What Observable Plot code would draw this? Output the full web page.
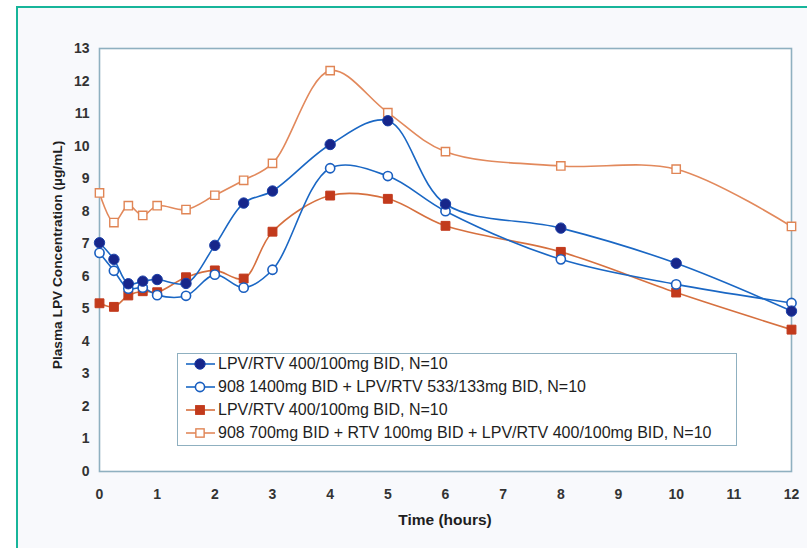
<!DOCTYPE html>
<html>
<head>
<meta charset="utf-8">
<script src="https://cdn.jsdelivr.net/npm/d3@7"></script>
<script src="https://cdn.jsdelivr.net/npm/@observablehq/plot@0.6"></script>
<style>
  html, body { margin: 0; padding: 0; background: #ffffff; }
  #wrap { position: relative; width: 807px; height: 548px; overflow: hidden; font-family: "Liberation Sans", Arial, Helvetica, sans-serif; }
  #panel { position: absolute; left: 16px; top: 6px; width: 800px; height: 560px; border-left: 2.5px solid #17b59a; border-top: 2.5px solid #17b59a; background: #f8f9fc; }
  #chart { position: absolute; left: 0; top: 0; }
  #legend { position: absolute; left: 177px; top: 353px; width: 558px; height: 91px; border: 1.5px solid #8fb0c0; background: #ffffff; }
  .row { position: absolute; left: 0; height: 23px; display: flex; align-items: center; font-size: 16px; color: #1e1e1e; white-space: nowrap; }
  .row svg { margin-left: 8px; margin-right: 3px; }
</style>
</head>
<body>
<div id="wrap">
  <div id="panel"></div>
  <div id="chart"></div>
  <div id="legend"></div>
</div>
<script>
// ---- data ----
const time = [0, 0.25, 0.5, 0.75, 1, 1.5, 2, 2.5, 3, 4, 5, 6, 8, 10, 12];
const seriesNames = [
  "LPV/RTV 400/100mg BID, N=10",
  "908 1400mg BID + LPV/RTV 533/133mg BID, N=10",
  "LPV/RTV 400/100mg BID, N=10",
  "908 700mg BID + RTV 100mg BID + LPV/RTV 400/100mg BID, N=10"
];
const lpvRtvA   = [7.03, 6.52, 5.77, 5.85, 5.90, 5.78, 6.95, 8.25, 8.62, 10.05, 10.78, 8.22, 7.48, 6.40, 4.93];
const fos1400   = [6.72, 6.17, 5.62, 5.65, 5.42, 5.40, 6.05, 5.65, 6.20, 9.32, 9.08, 8.00, 6.52, 5.75, 5.18];
const lpvRtvB   = [5.17, 5.06, 5.41, 5.54, 5.51, 5.97, 6.18, 5.93, 7.37, 8.48, 8.38, 7.55, 6.75, 5.50, 4.36];
const fos700    = [8.56, 7.65, 8.17, 7.87, 8.17, 8.05, 8.49, 8.95, 9.47, 12.32, 11.03, 9.83, 9.39, 9.29, 7.53];
const xTicks = [0,1,2,3,4,5,6,7,8,9,10,11,12];
const yTicks = [0,1,2,3,4,5,6,7,8,9,10,11,12,13];

// ---- styles ----
const styles = [
  {line: "#1a67c4", fill: "#17268a", stroke: "#1a3fa8", symbol: "circle", r: 5.2, sw: 1},
  {line: "#1a67c4", fill: "#ffffff", stroke: "#1a5fc0", symbol: "circle", r: 4.6, sw: 1.6},
  {line: "#d6703f", fill: "#c23a1c", stroke: "#c23a1c", symbol: "square", r: 5.0, sw: 1},
  {line: "#e2895c", fill: "#ffffff", stroke: "#e08555", symbol: "square", r: 4.7, sw: 1.4}
];
const values = [lpvRtvA, fos1400, lpvRtvB, fos700];
const series = values.map((v, i) => time.map((t, j) => ({t, v: v[j], s: i})));
const drawOrder = [3, 2, 1, 0];

const font = '"Liberation Sans", Arial, Helvetica, sans-serif';
const marks = [];
marks.push(Plot.frame({stroke: "#8fb0c0", strokeWidth: 1.6, fill: "#ffffff"}));
for (const i of drawOrder) {
  const st = styles[i];
  marks.push(Plot.line(series[i], {x: "t", y: "v", stroke: st.line, strokeWidth: 1.6, curve: "catmull-rom"}));
}
for (const i of drawOrder) {
  const st = styles[i];
  marks.push(Plot.dot(series[i], {x: "t", y: "v", symbol: st.symbol, r: st.r, fill: st.fill, stroke: st.stroke, strokeWidth: st.sw}));
}
marks.push(Plot.axisX({ticks: xTicks, tickSize: 0, tickPadding: 18, fontSize: 14, fontWeight: "bold", fill: "#333", label: null}));
marks.push(Plot.axisY({ticks: yTicks, tickSize: 0, tickPadding: 10, fontSize: 14, fontWeight: "bold", fill: "#333", label: null}));

const chart = Plot.plot({
  width: 807,
  height: 548,
  marginLeft: 99,
  marginRight: 16,
  marginTop: 48,
  marginBottom: 77,
  style: {background: "transparent", fontFamily: font, overflow: "visible"},
  x: {domain: [0, 12]},
  y: {domain: [0, 13]},
  marks
});

// axis titles as SVG text
const ns = "http://www.w3.org/2000/svg";
function addText(txt, x, y, rot, size) {
  const t = document.createElementNS(ns, "text");
  t.setAttribute("x", x); t.setAttribute("y", y);
  t.setAttribute("text-anchor", "middle");
  t.setAttribute("dominant-baseline", "central");
  t.setAttribute("font-size", size);
  t.setAttribute("font-weight", "bold");
  t.setAttribute("fill", "#1e1e1e");
  t.setAttribute("font-family", font);
  if (rot) t.setAttribute("transform", `rotate(-90 ${x} ${y})`);
  t.textContent = txt;
  chart.appendChild(t);
}
addText("Time (hours)", 445, 519, false, 15.5);
addText("Plasma LPV Concentration (\u00b5g/mL)", 57, 255, true, 13.7);
document.getElementById("chart").appendChild(chart);

// legend
const legend = document.getElementById("legend");
seriesNames.forEach((name, i) => {
  const st = styles[i];
  const row = document.createElement("div");
  row.className = "row";
  row.style.top = (i * 23 - 1.5) + "px";
  const marker = st.symbol === "circle"
    ? `<circle cx="14" cy="9" r="${st.r}" fill="${st.fill}" stroke="${st.stroke}" stroke-width="${st.sw}"/>`
    : `<rect x="${14 - st.r*0.88}" y="${9 - st.r*0.88}" width="${st.r*1.76}" height="${st.r*1.76}" fill="${st.fill}" stroke="${st.stroke}" stroke-width="${st.sw}"/>`;
  row.innerHTML = `<svg width="29" height="18"><line x1="0" x2="29" y1="9" y2="9" stroke="${st.line}" stroke-width="1.6"/>${marker}</svg><span>${name}</span>`;
  legend.appendChild(row);
});
</script>
</body>
</html>
